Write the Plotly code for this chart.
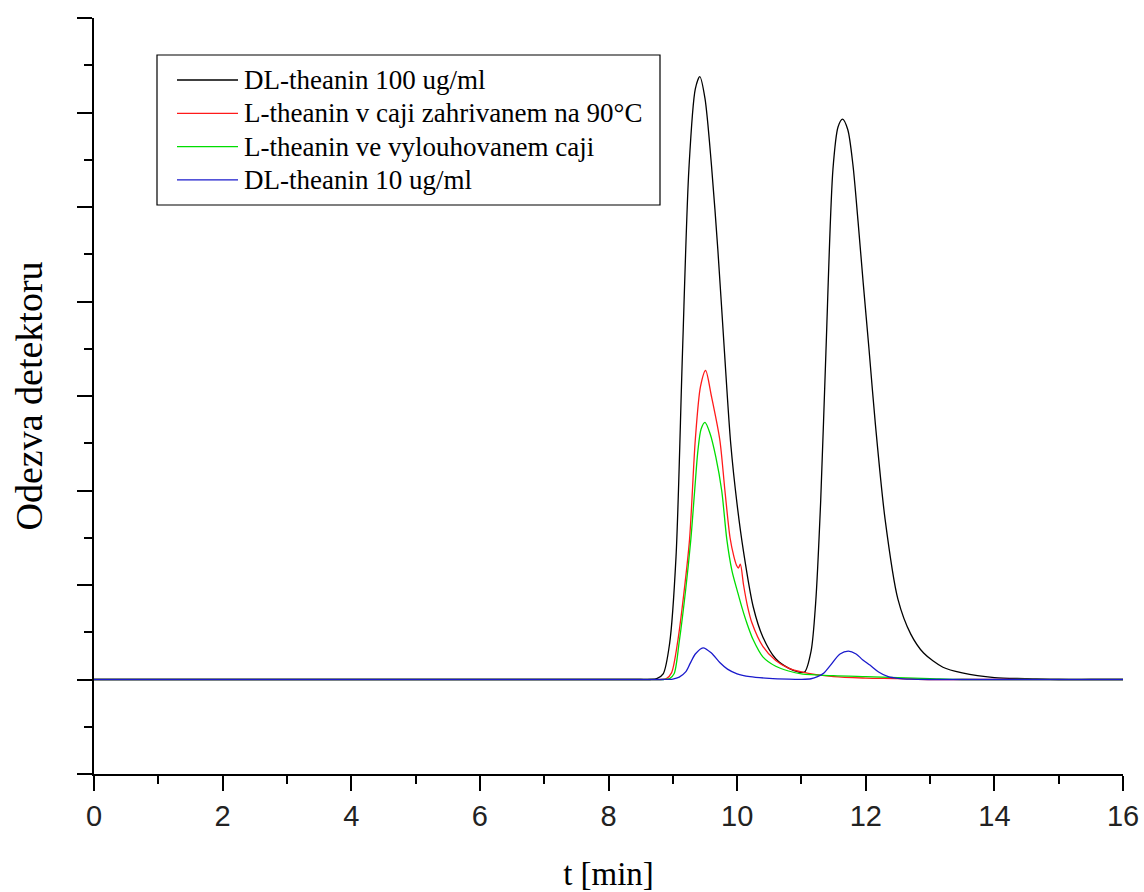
import plotly.graph_objects as go

# ---------------- data ----------------
series_names = [
    "DL-theanin 100 ug/ml",
    "L-theanin v caji zahrivanem na 90°C",
    "L-theanin ve vylouhovanem caji",
    "DL-theanin 10 ug/ml",
]
series_colors = ["#000000", "#ff1a1a", "#00dd00", "#1a1acc"]

t_black = [0, 2, 4, 6, 7, 7.8, 8.2, 8.5, 8.65, 8.75, 8.85, 8.95, 9.05, 9.15, 9.25,
           9.35, 9.42, 9.5, 9.6, 9.7, 9.8, 9.9, 10.0, 10.1, 10.25, 10.4, 10.6, 10.8,
           10.95, 11.05, 11.15, 11.22, 11.3, 11.38, 11.49, 11.57, 11.64, 11.72, 11.8,
           11.88, 11.96, 12.05, 12.15, 12.3, 12.5, 12.7, 12.9, 13.2, 13.5, 14.0,
           14.5, 15.0, 15.5, 16]
y_black = [0, 0, 0, 0, 0, 0, 0, 0, 0, 0.01, 0.06, 0.38, 1.3, 3.45, 5.4,
           6.25, 6.38, 6.15, 5.45, 4.55, 3.5, 2.5, 1.85, 1.35, 0.77, 0.45, 0.22, 0.12,
           0.08, 0.08, 0.3, 0.8, 1.9, 3.45, 5.4, 5.85, 5.93, 5.82, 5.45,
           4.85, 4.2, 3.5, 2.7, 1.7, 0.85, 0.48, 0.28, 0.13, 0.07, 0.02,
           0.01, 0, 0, 0]

t_red = [0, 2, 4, 6, 7, 7.8, 8.2, 8.5, 8.7, 8.82, 8.9, 8.98, 9.08, 9.17, 9.26, 9.35,
         9.43, 9.51, 9.6, 9.73, 9.81, 9.89, 9.95, 9.99, 10.02, 10.05, 10.1, 10.16,
         10.23, 10.4, 10.6, 10.8, 11.0, 11.5, 12.0, 12.5, 13.0, 13.5, 14.5, 15.5, 16]
y_red = [0, 0, 0, 0, 0, 0, 0, 0, 0, 0, 0.01, 0.07, 0.42, 0.9, 1.48, 2.54,
         3.1, 3.27, 3.0, 2.54, 2.0, 1.5, 1.3, 1.21, 1.18, 1.22, 1.0, 0.78,
         0.6, 0.35, 0.2, 0.12, 0.08, 0.03, 0.015, 0.01, 0, 0, 0, 0, 0]

t_green = [0, 2, 4, 6, 7, 7.8, 8.2, 8.5, 8.7, 8.85, 8.95, 9.02, 9.1, 9.2, 9.28, 9.34,
           9.39, 9.44, 9.5, 9.58, 9.67, 9.76, 9.84, 9.92, 10.01, 10.08, 10.15, 10.25,
           10.4, 10.6, 10.8, 11.0, 11.5, 12.0, 12.5, 13.0, 13.5, 14.5, 15.5, 16]
y_green = [0, 0, 0, 0, 0, 0, 0, 0, 0, 0, 0.01, 0.06, 0.4, 0.95, 1.48, 2.0,
           2.42, 2.65, 2.72, 2.6, 2.35, 2.0, 1.48, 1.15, 0.92, 0.75, 0.6, 0.42,
           0.24, 0.14, 0.09, 0.06, 0.04, 0.03, 0.02, 0.01, 0, 0, 0, 0]

t_blue = [0, 2, 4, 6, 7, 7.8, 8.2, 8.5, 8.7, 8.85, 9.0, 9.1, 9.2, 9.27, 9.35, 9.47,
          9.6, 9.73, 9.85, 10.0, 10.2, 10.5, 10.8, 11.0, 11.15, 11.25, 11.35, 11.45,
          11.6, 11.73, 11.85, 11.95, 12.07, 12.2, 12.35, 12.5, 12.7, 13.0, 13.5,
          14.5, 15.5, 16]
y_blue = [0, 0, 0, 0, 0, 0, 0, 0, 0, 0, 0.005, 0.025, 0.08, 0.17, 0.27, 0.335,
          0.28, 0.18, 0.11, 0.06, 0.03, 0.012, 0.004, 0.002, 0.008, 0.03, 0.07, 0.15,
          0.27, 0.30, 0.27, 0.21, 0.15, 0.08, 0.03, 0.012, 0.003, 0, 0,
          0, 0, 0]

x_title = "t [min]"
y_title = "Odezva detektoru"
x_ticks = [0, 2, 4, 6, 8, 10, 12, 14, 16]

series_t = [t_black, t_red, t_green, t_blue]
series_y = [y_black, y_red, y_green, y_blue]

# ---------------- figure ----------------
W, H = 1144, 892
ML, MR, MT, MB = 94, 21, 18, 118
PW, PH = W - ML - MR, H - MT - MB
SERIF = "Liberation Serif, Times New Roman, serif"

fig = go.Figure()
for name, col, tx, ty in zip(series_names, series_colors, series_t, series_y):
    fig.add_trace(go.Scatter(
        x=tx, y=ty, mode="lines", name=name, showlegend=False,
        line=dict(color=col, width=1.3, shape="spline", smoothing=0.8),
        hoverinfo="skip",
    ))

def px_x(p):
    return (p - ML) / PW

def px_y(p):
    return (H - MB - p) / PH

# legend box drawn as in the reference
box = dict(l=157, r=660, t=55, b=205)
fig.add_shape(type="rect", xref="paper", yref="paper",
              x0=px_x(box["l"]), x1=px_x(box["r"]),
              y0=px_y(box["b"]), y1=px_y(box["t"]),
              line=dict(color="black", width=1.2), fillcolor="white", layer="above")
row0, dy = 80, 33.3
for i, (name, col) in enumerate(zip(series_names, series_colors)):
    ry = row0 + i * dy
    fig.add_shape(type="line", xref="paper", yref="paper",
                  x0=px_x(177), x1=px_x(238), y0=px_y(ry), y1=px_y(ry),
                  line=dict(color=col, width=1.3), layer="above")
    fig.add_annotation(xref="paper", yref="paper", x=px_x(242), y=px_y(ry),
                       text=name, showarrow=False, xanchor="left", yanchor="middle",
                       font=dict(family=SERIF, size=27, color="black"))

fig.update_layout(
    width=W, height=H,
    margin=dict(l=ML, r=MR, t=MT, b=MB, autoexpand=False),
    paper_bgcolor="white", plot_bgcolor="white",
    showlegend=False,
)
fig.update_xaxes(
    range=[0, 16], showgrid=False, zeroline=False,
    showline=True, linecolor="black", linewidth=2,
    ticks="outside", ticklen=15, tickwidth=2, tickcolor="black",
    tickvals=x_ticks, ticktext=[str(v) for v in x_ticks],
    ticklabelstandoff=0,
    tickfont=dict(family="Liberation Sans", size=29, color="#222"),
    minor=dict(ticks="outside", ticklen=8, tickwidth=2, tickcolor="black", dtick=1, showgrid=False),
    title=dict(text=x_title, font=dict(family=SERIF, size=33, color="black"), standoff=34),
    automargin=False,
)
fig.update_yaxes(
    range=[-1, 7], showgrid=False, zeroline=False,
    showline=True, linecolor="black", linewidth=2,
    ticks="outside", ticklen=15, tickwidth=2, tickcolor="black",
    dtick=1, tick0=0, showticklabels=False,
    minor=dict(ticks="outside", ticklen=8, tickwidth=2, tickcolor="black", dtick=0.5, showgrid=False),
    title=dict(text=y_title, font=dict(family=SERIF, size=38, color="black"), standoff=23),
    automargin=False,
)

fig.write_html("out.html")
